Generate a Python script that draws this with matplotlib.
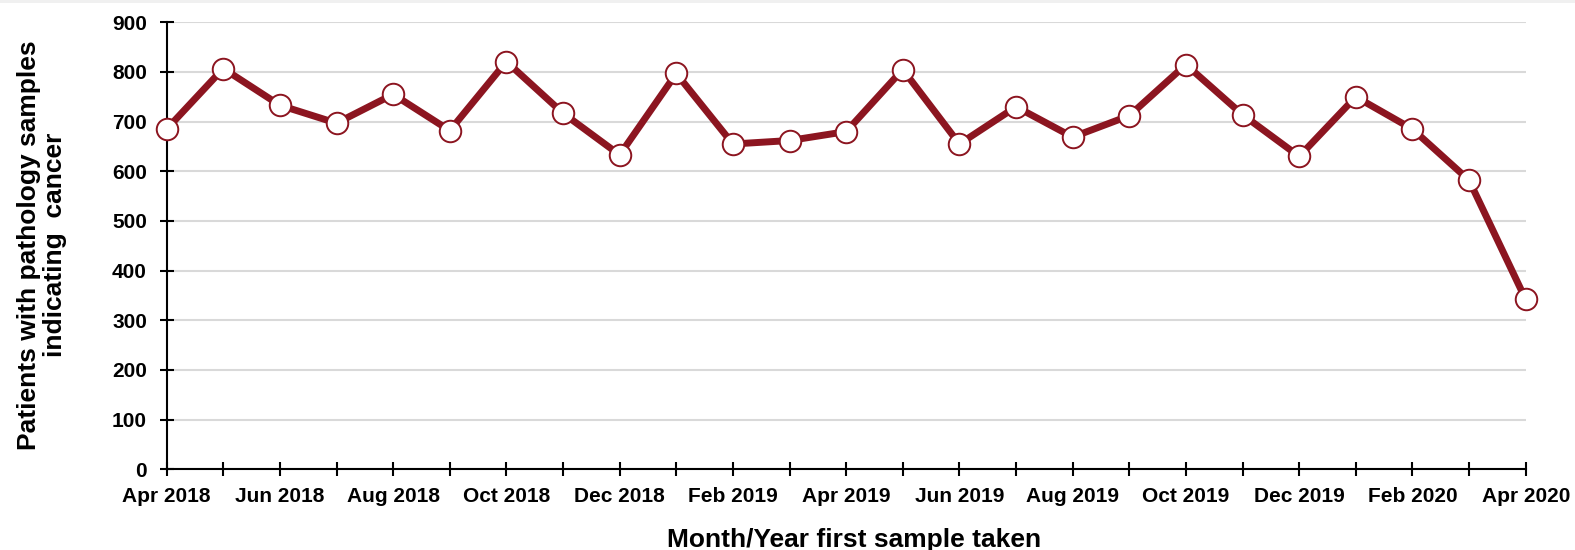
import matplotlib.pyplot as plt
from matplotlib.patches import Rectangle

# ---------------------------------------------------------------------------
# Data
# ---------------------------------------------------------------------------
MONTHS = [
    "Apr 2018", "May 2018", "Jun 2018", "Jul 2018", "Aug 2018", "Sep 2018",
    "Oct 2018", "Nov 2018", "Dec 2018", "Jan 2019", "Feb 2019", "Mar 2019",
    "Apr 2019", "May 2019", "Jun 2019", "Jul 2019", "Aug 2019", "Sep 2019",
    "Oct 2019", "Nov 2019", "Dec 2019", "Jan 2020", "Feb 2020", "Mar 2020",
    "Apr 2020",
]
PATIENTS = [
    685, 807, 733, 697, 755, 682, 821, 717, 633, 797, 655, 662,
    680, 805, 655, 730, 669, 712, 815, 714, 630, 750, 685, 582, 342,
]
Y_TICKS = list(range(0, 1000, 100))

LINE_COLOR = "#8c1520"
GRID_COLOR = "#d9d9d9"

plt.rcParams["font.family"] = ["Liberation Sans", "DejaVu Sans"]
plt.rcParams["font.weight"] = "bold"


def main() -> None:
    fig = plt.figure(figsize=(15.75, 5.5), dpi=100, facecolor="white")
    # axes box in pixels: x 166.7..1525.7, y 22.3..469.3 (of 550)
    ax = fig.add_axes([0.1058, 0.1467, 0.8629, 0.8127])

    # thin grey strip along the top edge
    fig.patches.append(Rectangle((0, 0.994), 1, 0.006, transform=fig.transFigure,
                                 facecolor="#f0f0f0", edgecolor="none"))

    x = list(range(len(MONTHS)))
    ax.plot(x, PATIENTS, color=LINE_COLOR, linewidth=5, zorder=3,
            marker="o", markersize=15.5, markerfacecolor="white",
            markeredgecolor=LINE_COLOR, markeredgewidth=1.4, clip_on=False)

    ax.set_xlim(0, len(MONTHS) - 1)
    ax.set_ylim(0, 900)
    ax.set_yticks(Y_TICKS)
    ax.set_yticklabels([str(v) for v in Y_TICKS], fontsize=15, fontweight="bold")
    ax.set_xticks(x)
    ax.set_xticklabels([m if i % 2 == 0 else "" for i, m in enumerate(MONTHS)],
                       fontsize=15, fontweight="bold")

    ax.yaxis.grid(True, color=GRID_COLOR, linewidth=1.5, zorder=0)
    ax.set_axisbelow(True)

    for side in ("top", "right"):
        ax.spines[side].set_visible(False)
    for side in ("left", "bottom"):
        ax.spines[side].set_linewidth(1.5)
        ax.spines[side].set_color("black")
    ax.tick_params(axis="both", direction="inout", length=9.4, width=1.5,
                   color="black")
    ax.tick_params(axis="y", pad=9.5)
    ax.tick_params(axis="x", pad=8)

    fig.text(0.0267, 0.555, "Patients with pathology samples\nindicating  cancer",
             rotation=90, ha="center", va="center", fontsize=19,
             fontweight="bold", linespacing=1.12)
    fig.text(0.542, 0.0055, "Month/Year first sample taken", ha="center",
             va="baseline", fontsize=19, fontweight="bold")

    fig.savefig("out.png", dpi=100, facecolor="white")
    plt.close(fig)


if __name__ == "__main__":
    main()
